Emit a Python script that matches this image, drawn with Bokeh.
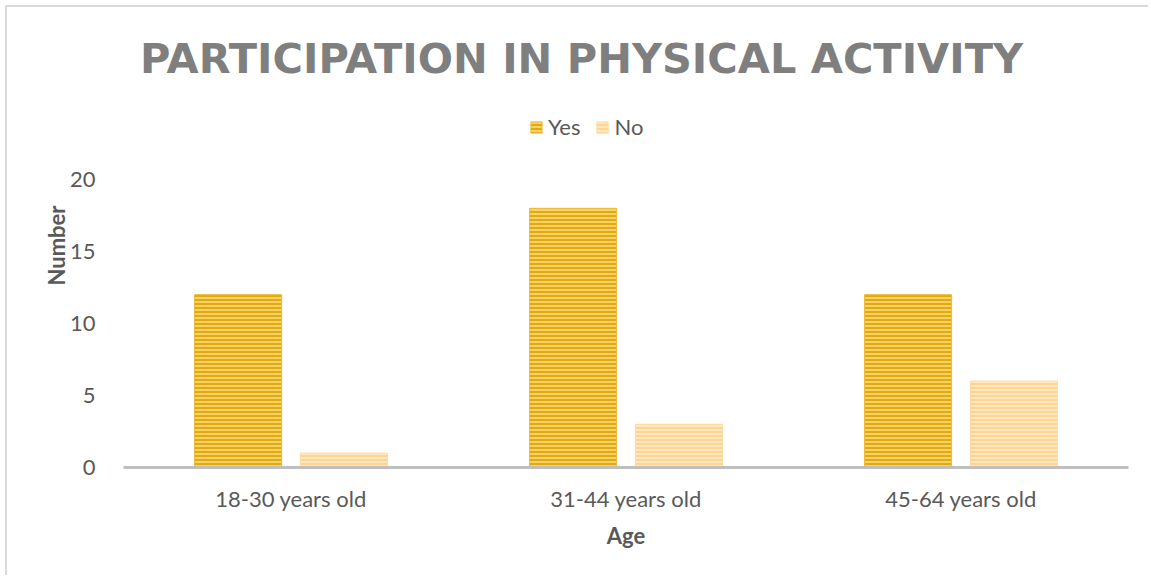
from math import pi

from bokeh.embed import file_html
from bokeh.models import (ColumnDataSource, FactorRange, FixedTicker, Label,
                          Legend, LegendItem, Range1d)
from bokeh.plotting import figure
from bokeh.resources import INLINE
from bokeh.transform import dodge

# ---- data -------------------------------------------------------------
chart_title = "PARTICIPATION IN PHYSICAL ACTIVITY"
age_groups = ["18-30 years old", "31-44 years old", "45-64 years old"]
yes_counts = [12, 18, 12]
no_counts = [1, 3, 6]
y_ticks = [0, 5, 10, 15, 20]
series_names = ["Yes", "No"]
x_title = "Age"
y_title = "Number"

# ---- styling ----------------------------------------------------------
FONT = "Lato"
TEXT_GREY = "#595959"
TITLE_GREY = "#7f7f7f"
YES_FILL, YES_HATCH = "#e4aa0c", "#f8d97e"
NO_FILL, NO_HATCH = "#ffd48e", "#ffeccb"

src = ColumnDataSource(dict(age=age_groups, yes=yes_counts, no=no_counts))

# The plot area reaches up to the top of the chart so the title and legend
# can sit inside it; only the 0-20 band carries ticks and bars.
p = figure(
    x_range=FactorRange(*age_groups),
    y_range=Range1d(0, 30.83),
    width=1143, height=570,
    min_border_left=116, min_border_right=22,
    min_border_top=16, min_border_bottom=110,
    output_backend="svg", toolbar_location=None,
)
p.styles = {
    "margin-left": "5px", "margin-top": "5px",
    "border-left": "2px solid #d9d9d9", "border-top": "2px solid #d9d9d9",
}
p.outline_line_color = None
p.background_fill_color = "white"
p.border_fill_color = "white"
p.xgrid.visible = False
p.ygrid.visible = False

bar_w = 0.26
off = 0.158
yes_r = p.vbar(x=dodge("age", -off, range=p.x_range), top="yes", width=bar_w,
               source=src, fill_color=YES_FILL, line_color="#ebbd3c", line_width=1,
               hatch_pattern="horizontal_line", hatch_color=YES_HATCH,
               hatch_scale=4, hatch_weight=1.7)
no_r = p.vbar(x=dodge("age", off, range=p.x_range), top="no", width=bar_w,
              source=src, fill_color=NO_FILL, line_color="#ffdaa0", line_width=1,
              hatch_pattern="horizontal_line", hatch_color=NO_HATCH,
              hatch_scale=4, hatch_weight=1.7)

# x axis
xa = p.xaxis[0]
xa.axis_line_color = "#bfbfbf"
xa.axis_line_width = 3
xa.major_tick_line_color = None
xa.minor_tick_line_color = None
xa.major_label_standoff = 11
xa.major_label_text_font = FONT
xa.major_label_text_font_size = "22px"
xa.major_label_text_color = TEXT_GREY
xa.axis_label = x_title
xa.axis_label_text_font = FONT
xa.axis_label_text_font_style = "bold"
xa.axis_label_text_font_size = "22px"
xa.axis_label_text_color = TEXT_GREY
xa.axis_label_standoff = 7

# y axis
ya = p.yaxis[0]
ya.ticker = FixedTicker(ticks=y_ticks)
ya.axis_line_color = None
ya.major_tick_line_color = None
ya.minor_tick_line_color = None
ya.major_label_standoff = 22
ya.major_label_text_font = FONT
ya.major_label_text_font_size = "22px"
ya.major_label_text_color = TEXT_GREY
ya.axis_label = y_title
ya.axis_label_text_font = FONT
ya.axis_label_text_font_style = "bold"
ya.axis_label_text_font_size = "22px"
ya.axis_label_text_color = TEXT_GREY
ya.axis_label_standoff = -3

# chart title
p.add_layout(Label(x=458, y=409, x_units="screen", y_units="screen",
                   text=chart_title, text_align="center", text_baseline="middle",
                   text_font="DejaVu Sans", text_font_style="bold",
                   text_font_size="41.5px", text_color=TITLE_GREY))

legend = Legend(
    items=[LegendItem(label=series_names[0], renderers=[yes_r]),
           LegendItem(label=series_names[1], renderers=[no_r])],
    orientation="horizontal", location=(406, 327),
    glyph_width=14, glyph_height=14, label_standoff=5, spacing=15,
    padding=0, margin=0, border_line_color=None, background_fill_alpha=0,
    label_text_font=FONT, label_text_font_size="22px", label_text_color=TEXT_GREY,
)
p.add_layout(legend)

open("out.html", "w").write(file_html(p, INLINE))
